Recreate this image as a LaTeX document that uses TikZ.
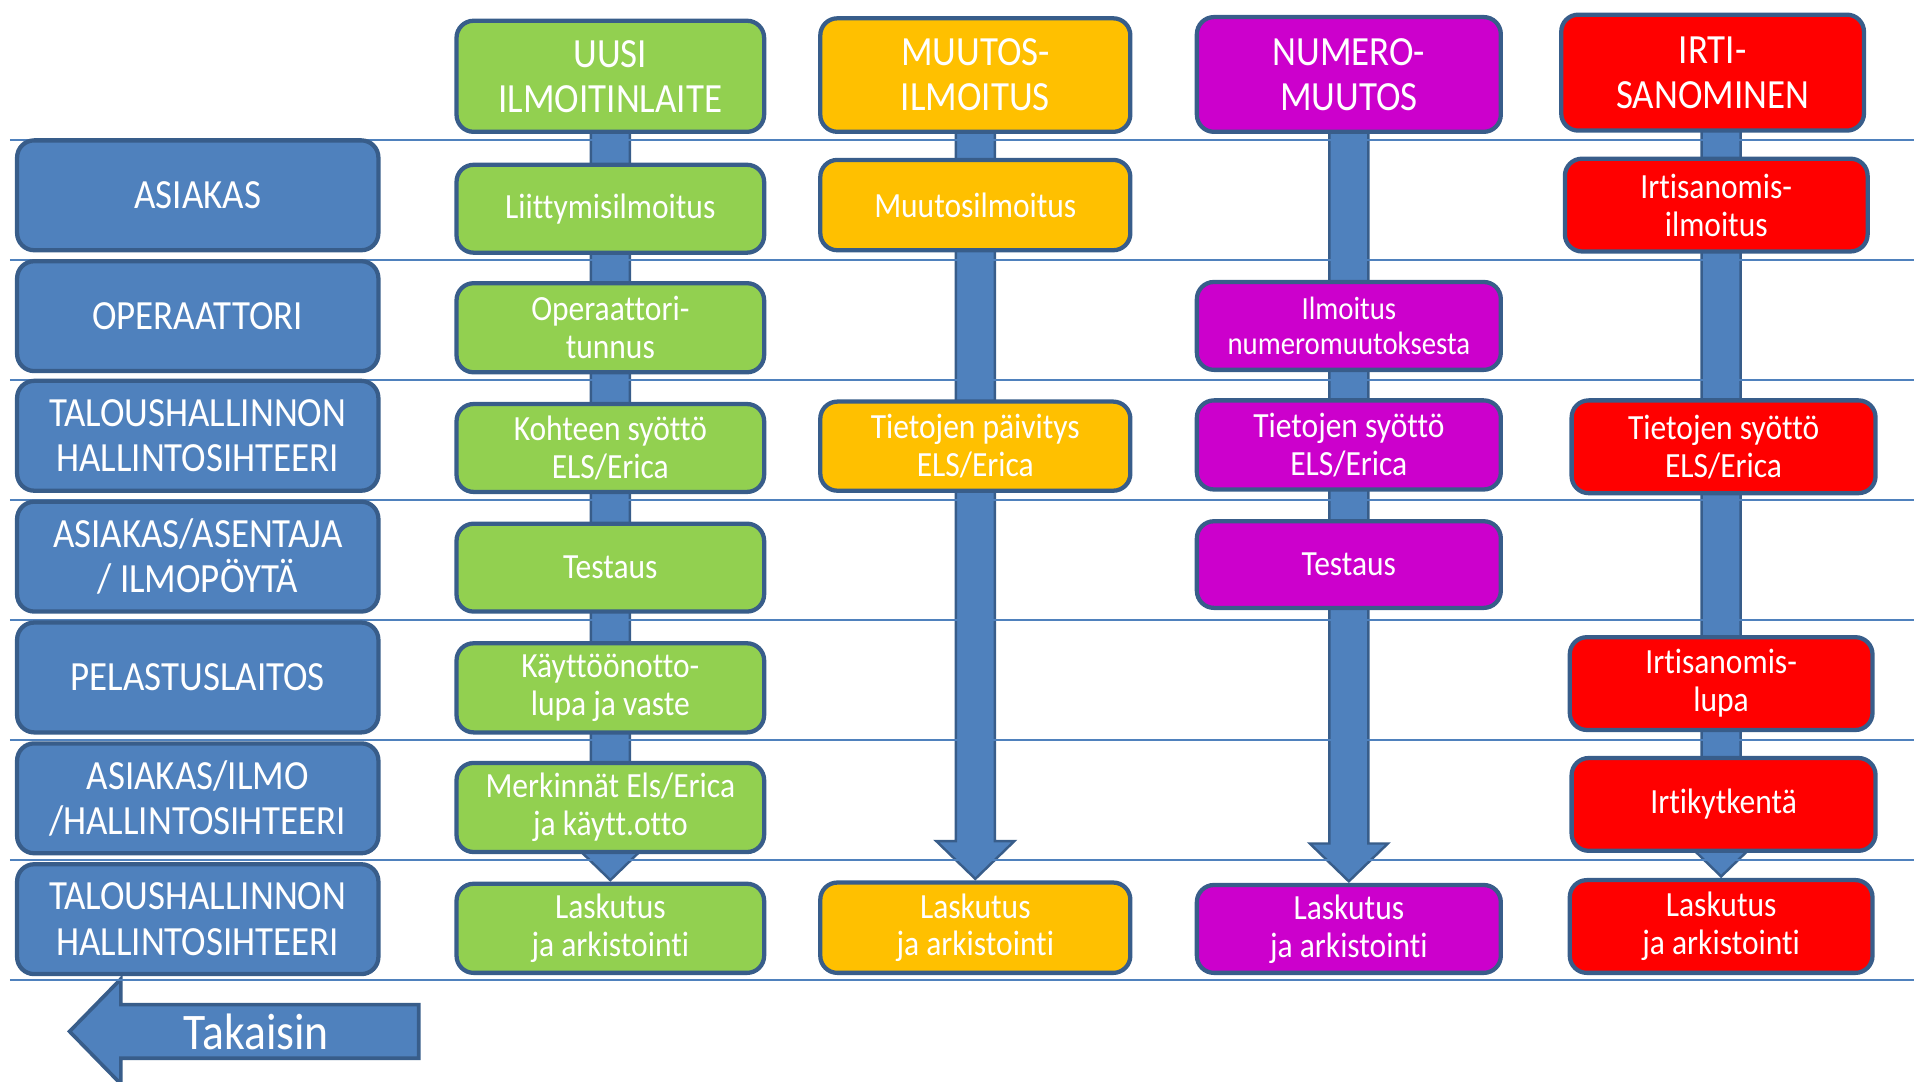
\documentclass[tikz,border=0pt]{standalone}
\usepackage{fontspec}
\setmainfont{Carlito}[FakeStretch=0.89,Ligatures=NoCommon]
\usetikzlibrary{calc}
\pgfdeclarelayer{arr}
\pgfdeclarelayer{lin}
\pgfsetlayers{arr,lin,main}
\definecolor{cgreen}{HTML}{92D050}
\definecolor{corange}{HTML}{FFC000}
\definecolor{cmag}{HTML}{CC00CC}
\definecolor{cred}{HTML}{FF0000}
\definecolor{cblue}{HTML}{4F81BD}
\definecolor{cborder}{HTML}{385D8A}
\tikzset{
  boxbase/.style={draw=cborder, line width=3.5pt, rounded corners=14pt, text=white,
    align=center, inner sep=0pt, outer sep=0pt},
  rolebox/.style={boxbase, fill=cblue, minimum width=296pt, minimum height=90pt,
    font=\fontsize{34}{37}\selectfont},
  headbox/.style={boxbase, minimum width=250pt, minimum height=92pt,
    font=\fontsize{34}{37}\selectfont},
  stepbox/.style={boxbase, minimum width=250pt, minimum height=73pt,
    font=\fontsize{29}{31}\selectfont},
  gbox/.style={fill=cgreen},
  obox/.style={fill=corange},
  mbox/.style={fill=cmag},
  rbox/.style={fill=cred},
  arrowst/.style={fill=cblue, draw=cborder, line width=2pt, line join=miter},
  rule/.style={draw=cblue, line width=1.6pt},
}
\newcommand{\colarrow}[2]{%
  \draw[arrowst] ($(#2.north |- #1.south)+(-16,-2)$) -- ($(#2.north)+(-16,-34)$)
    -- ($(#2.north)+(-32,-34)$) -- ($(#2.north)+(0,-3)$) -- ($(#2.north)+(32,-34)$)
    -- ($(#2.north)+(16,-34)$) -- ($(#2.north |- #1.south)+(16,-2)$) -- cycle;}
\begin{document}
\begin{tikzpicture}[x=1pt,y=-1pt]
\useasboundingbox (0,0) rectangle (1568,886);
% role boxes
\node[rolebox] (r1) at (162,160) {ASIAKAS};
\node[rolebox] (r2) at (162,259) {OPERAATTORI};
\node[rolebox] (r3) at (162,357) {TALOUSHALLINNON\\HALLINTOSIHTEERI};
\node[rolebox] (r4) at (162,456) {ASIAKAS/ASENTAJA\\/ ILMOPÖYTÄ};
\node[rolebox] (r5) at (162,555) {PELASTUSLAITOS};
\node[rolebox] (r6) at (162,654) {ASIAKAS/ILMO\\/HALLINTOSIHTEERI};
\node[rolebox] (r7) at (162,753) {TALOUSHALLINNON\\HALLINTOSIHTEERI};
% column 1
\node[headbox,gbox,minimum width=252pt,minimum height=91pt] (h1) at (500,62.5) {UUSI\\ILMOITINLAITE};
\node[stepbox,gbox,minimum width=252pt,minimum height=72pt] (a1) at (500,171) {Liittymisilmoitus};
\node[stepbox,gbox,minimum width=252pt] (b1) at (500,268.5) {Operaattori-\\tunnus};
\node[stepbox,gbox,minimum width=252pt,minimum height=72pt] (c1) at (500,367) {Kohteen syöttö\\ELS/Erica};
\node[stepbox,gbox,minimum width=252pt,minimum height=72pt] (d1) at (500,465) {Testaus};
\node[stepbox,gbox,minimum width=252pt] (e1) at (500,563.5) {Käyttöönotto-\\lupa ja vaste};
\node[stepbox,gbox,minimum width=252pt] (f1) at (500,661.5) {Merkinnät Els/Erica\\ja käytt.otto};
\node[stepbox,gbox,minimum width=252pt] (g1) at (500,760.5) {Laskutus\\ja arkistointi};
% column 2
\node[headbox,obox,minimum width=254pt,minimum height=93pt] (h2) at (799,61.5) {MUUTOS-\\ILMOITUS};
\node[stepbox,obox,minimum width=254pt,minimum height=74pt] (a2) at (799,168) {Muutosilmoitus};
\node[stepbox,obox,minimum width=254pt] (c2) at (799,365.5) {Tietojen päivitys\\ELS/Erica};
\node[stepbox,obox,minimum width=254pt,minimum height=74pt] (g2) at (799,760) {Laskutus\\ja arkistointi};
% column 3
\node[headbox,mbox,minimum width=249pt,minimum height=94pt] (h3) at (1105,61) {NUMERO-\\MUUTOS};
\node[stepbox,mbox,minimum width=249pt,minimum height=72pt,font=\fontsize{26.5}{29}\selectfont] (b3) at (1105,267) {Ilmoitus\\numeromuutoksesta};
\node[stepbox,mbox,minimum width=249pt] (c3) at (1105,364.5) {Tietojen syöttö\\ELS/Erica};
\node[stepbox,mbox,minimum width=249pt,minimum height=71pt] (d3) at (1105,462.5) {Testaus};
\node[stepbox,mbox,minimum width=249pt,minimum height=72pt] (g3) at (1105,761) {Laskutus\\ja arkistointi};
% column 4
\node[headbox,rbox,minimum width=248pt,minimum height=95pt] (h4) at (1403,59.5) {IRTI-\\SANOMINEN};
\node[stepbox,rbox,minimum width=248pt,minimum height=76pt] (a4) at (1406,168) {Irtisanomis-\\ilmoitus};
\node[stepbox,rbox,minimum width=249pt,minimum height=76pt] (c4) at (1412,366) {Tietojen syöttö\\ELS/Erica};
\node[stepbox,rbox,minimum width=248pt,minimum height=76pt] (e4) at (1410,560) {Irtisanomis-\\lupa};
\node[stepbox,rbox,minimum width=249pt,minimum height=76pt] (f4) at (1412,659) {Irtikytkentä};
\node[stepbox,rbox,minimum width=248pt,minimum height=76pt] (g4) at (1410,759) {Laskutus\\ja arkistointi};
% back arrow
\node[text=white, font=\fontsize{42}{46}\selectfont, inner sep=0pt] (back) at (210,845) {Takaisin};
\begin{pgfonlayer}{arr}
\colarrow{h1}{g1}
\colarrow{h2}{g2}
\colarrow{h3}{g3}
\colarrow{h4}{g4}
\draw[arrowst, line width=3pt] ($(back)+(133,-22)$) -- ($(back)+(-111,-22)$) -- ($(back)+(-111,-43)$)
  -- ($(back)+(-153,0)$) -- ($(back)+(-111,43)$) -- ($(back)+(-111,22)$) -- ($(back)+(133,22)$) -- cycle;
\end{pgfonlayer}
\begin{pgfonlayer}{lin}
\foreach \i in {0,...,7} {
  \draw[rule] (8,{115+98.29*\i}) -- (1568,{115+98.29*\i});
}
\end{pgfonlayer}
\end{tikzpicture}
\end{document}
